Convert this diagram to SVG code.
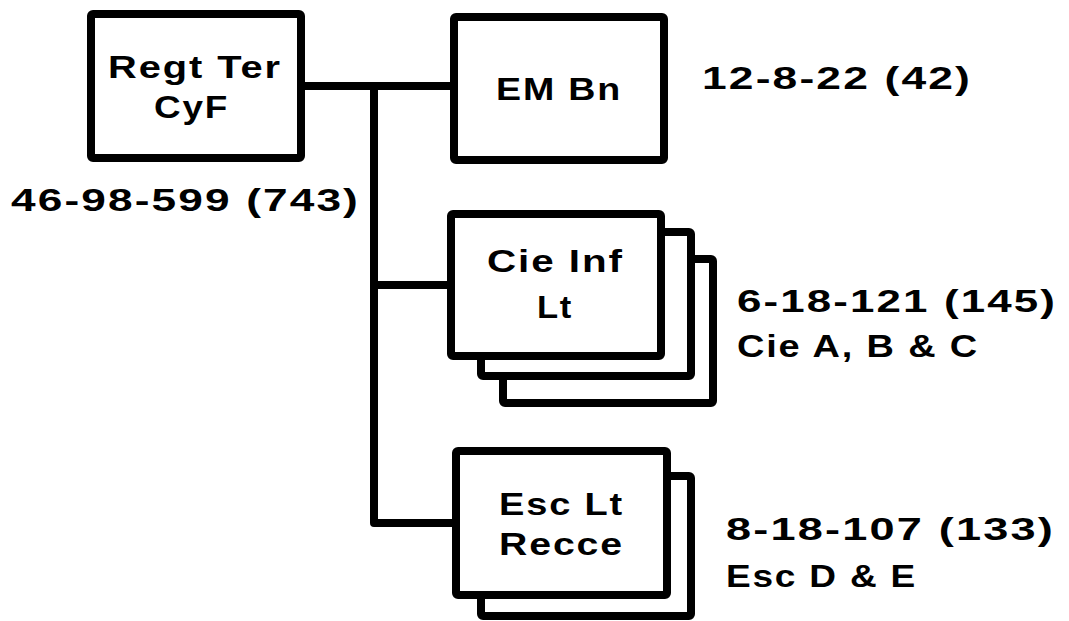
<svg xmlns="http://www.w3.org/2000/svg" width="1069" height="621" viewBox="0 0 1069 621">
<style>
.box{fill:#fff;stroke:#000;stroke-width:8;stroke-linejoin:round}
.ln{fill:none;stroke:#000;stroke-width:8;stroke-linejoin:round}
text{font-family:"Liberation Sans",Arial,sans-serif;font-weight:bold;font-size:31px;letter-spacing:1.5px;fill:#000}
</style>
<rect width="1069" height="621" fill="#fff"/>
<g id="connectors">
<path class="ln" d="M305,86 H454"/>
<path class="ln" d="M374,86 V523 H456"/>
<path class="ln" d="M374,285 H451"/>
</g>
<g id="regt">
<rect class="box" x="91" y="14" width="210" height="144" rx="2"/>
<text x="108" y="78" textLength="174" lengthAdjust="spacingAndGlyphs">Regt Ter</text>
<text x="154" y="118" textLength="75" lengthAdjust="spacingAndGlyphs">CyF</text>
<text x="11" y="211" textLength="349" lengthAdjust="spacingAndGlyphs">46-98-599 (743)</text>
</g>
<g id="embn">
<rect class="box" x="454" y="17" width="210" height="143" rx="2"/>
<text x="496" y="100" textLength="126" lengthAdjust="spacingAndGlyphs">EM Bn</text>
<text x="702" y="89" textLength="270" lengthAdjust="spacingAndGlyphs">12-8-22 (42)</text>
</g>
<g id="cieinf">
<rect class="box" x="503" y="259" width="210" height="144" rx="2"/>
<rect class="box" x="481" y="232" width="210" height="144" rx="2"/>
<rect class="box" x="451" y="214" width="210" height="142" rx="2"/>
<text x="487" y="272" textLength="137" lengthAdjust="spacingAndGlyphs">Cie Inf</text>
<text x="537" y="318" textLength="36" lengthAdjust="spacingAndGlyphs">Lt</text>
<text x="737" y="312" textLength="320" lengthAdjust="spacingAndGlyphs">6-18-121 (145)</text>
<text x="737" y="357" textLength="242" lengthAdjust="spacingAndGlyphs">Cie A, B &amp; C</text>
</g>
<g id="esclt">
<rect class="box" x="481" y="476" width="210" height="140" rx="2"/>
<rect class="box" x="456" y="451" width="211" height="144" rx="2"/>
<text x="499" y="515" textLength="125" lengthAdjust="spacingAndGlyphs">Esc Lt</text>
<text x="499" y="555" textLength="125" lengthAdjust="spacingAndGlyphs">Recce</text>
<text x="726" y="540" textLength="329" lengthAdjust="spacingAndGlyphs">8-18-107 (133)</text>
<text x="726" y="587" textLength="191" lengthAdjust="spacingAndGlyphs">Esc D &amp; E</text>
</g>
</svg>
